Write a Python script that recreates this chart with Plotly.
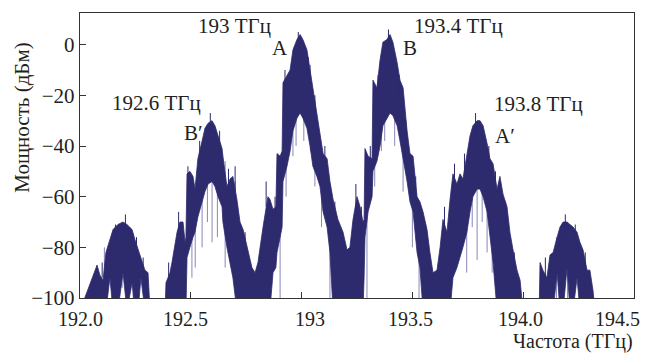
import plotly.graph_objects as go

# Spectrum envelope: frequency (THz), upper and lower edge of the noisy trace (dBm)
freq = [192.000, 192.077, 192.090, 192.104, 192.117, 192.135, 192.149, 192.171, 192.194, 192.212,
        192.235, 192.248, 192.262, 192.275, 192.293, 192.307, 192.316, 192.384,
        192.388, 192.406, 192.415, 192.438, 192.451, 192.465, 192.474, 192.478, 192.483, 192.496,
        192.510, 192.519, 192.532, 192.551, 192.564, 192.578, 192.596, 192.609, 192.623, 192.641,
        192.645, 192.663, 192.677, 192.690, 192.708, 192.722, 192.736, 192.754, 192.776, 192.790,
        192.803, 192.826, 192.848, 192.857, 192.871, 192.884, 192.889, 192.903, 192.912, 192.916,
        192.934, 192.948, 192.961, 192.979, 192.993, 193.006, 193.024, 193.038, 193.051, 193.069,
        193.083, 193.097, 193.115, 193.128, 193.142, 193.164, 193.187, 193.205, 193.218, 193.232,
        193.250, 193.264, 193.277, 193.282, 193.286, 193.300, 193.318, 193.322, 193.340, 193.354,
        193.367, 193.385, 193.399, 193.412, 193.431, 193.444, 193.458, 193.476, 193.489, 193.503,
        193.521, 193.534, 193.548, 193.566, 193.579, 193.593, 193.611, 193.625, 193.638, 193.656,
        193.670, 193.683, 193.701, 193.715, 193.728, 193.746, 193.760, 193.773, 193.792, 193.805,
        193.819, 193.837, 193.850, 193.864, 193.882, 193.895, 193.909, 193.927, 193.940, 193.954,
        193.972, 193.986, 193.999, 194.072, 194.076, 194.089, 194.107, 194.121, 194.135, 194.153,
        194.166, 194.180, 194.198, 194.211, 194.225, 194.243, 194.256, 194.270, 194.288, 194.301,
        194.315, 194.324, 194.500]

power_upper = [-105, -87, -91, -93, -82, -77, -73, -71, -70, -71,
               -73, -77, -81, -84, -89, -90, -105, -105,
               -94, -90, -86, -74, -70, -70, -78, -76, -51, -50,
               -52, -57, -45, -38, -33, -31, -30, -32, -36, -41,
               -44, -56, -53, -52, -61, -70, -73, -80, -88, -90,
               -86, -72, -60, -61, -65, -64, -43, -44, -42, -15,
               -12, -10, -2, 2, 4, 2, -2, -10, -17, -27,
               -34, -43, -45, -54, -61, -69, -74, -81, -80, -69,
               -60, -64, -70, -69, -41, -44, -45, -14, -17, -6,
               1, 2, 4, 1, -7, -14, -17, -34, -43, -44,
               -60, -62, -66, -73, -82, -90, -89, -80, -69, -74,
               -61, -51, -55, -51, -53, -44, -36, -32, -30, -30,
               -32, -39, -45, -47, -57, -52, -59, -64, -74, -81,
               -89, -93, -105, -105, -86, -89, -92, -83, -82, -76,
               -72, -70, -70, -71, -72, -74, -78, -81, -89, -89,
               -97, -105, -105]

power_lower = [-105, -105, -105, -105, -105, -92, -105, -105, -90, -105,
               -94, -105, -105, -92, -105, -105, -105, -105,
               -105, -105, -105, -105, -105, -105, -105, -105, -84, -80,
               -76, -74, -68, -62, -58, -55, -54, -56, -60, -64,
               -70, -80, -86, -92, -105, -105, -105, -105, -105, -105,
               -105, -105, -105, -105, -90, -88, -82, -76, -72, -54,
               -48, -42, -34, -29, -27, -29, -33, -40, -48, -52,
               -56, -66, -72, -82, -105, -105, -105, -105, -105, -105,
               -105, -105, -105, -92, -76, -66, -60, -50, -46, -40,
               -32, -29, -27, -28, -32, -38, -44, -54, -62, -66,
               -82, -88, -105, -105, -105, -105, -105, -105, -105, -105,
               -105, -92, -88, -84, -80, -74, -66, -60, -57, -57,
               -60, -66, -76, -86, -105, -105, -105, -105, -105, -105,
               -105, -105, -105, -105, -105, -105, -105, -105, -105, -90,
               -105, -105, -88, -105, -105, -92, -105, -105, -105, -105,
               -105, -105, -105]

# Thin noise spikes reaching below the dense band: frequency, spike top, spike bottom (dBm)
spike_freq = [192.110, 192.190, 192.240, 192.505, 192.551, 192.596, 192.655, 192.700,
              192.903, 192.930, 192.961, 193.040, 193.060, 193.128, 193.295, 193.330,
              193.360, 193.458, 193.530, 193.745, 193.792, 193.837, 193.882, 194.150, 194.200,
              192.520, 192.575, 192.620, 192.975, 193.010, 193.090, 193.375, 193.420, 193.500,
              193.770, 193.815, 193.860]
spike_top = [-80, -72, -75, -55, -40, -32, -46, -54,
             -46, -20, -5, -8, -22, -55, -45, -20,
             -8, -20, -62, -46, -32, -42, -58, -76, -72,
             -60, -42, -45, -10, -10, -45, -10, -10, -50,
             -40, -40, -52]
spike_bottom = [-100, -96, -100, -92, -80, -78, -88, -90,
                -100, -60, -44, -42, -56, -100, -100, -56,
                -42, -58, -100, -90, -85, -82, -100, -100, -100,
                -88, -70, -76, -40, -38, -72, -38, -40, -80,
                -72, -70, -90]

# Fine hairs sticking up from the top edge: frequency, hair tip (dBm), hair base (dBm)
hair_freq = [192.100, 192.160, 192.205, 192.255, 192.285, 192.400, 192.445, 192.487, 192.540,
             192.588, 192.630, 192.670, 192.700, 192.745, 192.815, 192.840, 192.880, 192.925,
             192.985, 193.030, 193.060, 193.105, 193.150, 193.245, 193.270, 193.310, 193.345,
             193.392, 193.440, 193.470, 193.515, 193.560, 193.645, 193.690, 193.735, 193.785,
             193.845, 193.875, 193.918, 193.960, 194.100, 194.190, 194.235, 194.280]
hair_tip = [-86, -71, -67, -76, -84, -86, -66, -48, -38,
            -27, -34, -49, -48, -74, -80, -54, -60, -10,
            5, -5, -20, -40, -62, -55, -64, -40, -12,
            6, -12, -30, -52, -72, -64, -47, -43, -27,
            -40, -50, -62, -82, -84, -67, -71, -82]
hair_base = [-92, -78, -74, -82, -92, -92, -74, -56, -46,
             -35, -42, -58, -58, -84, -90, -64, -68, -22,
             -4, -12, -30, -50, -70, -65, -74, -50, -24,
             -2, -20, -40, -62, -82, -72, -56, -52, -35,
             -48, -58, -72, -92, -94, -76, -79, -90]

# Peak labels
label_text = ["193 ТГц", "A", "192.6 ТГц", "B′", "193.4 ТГц", "B", "193.8 ТГц", "A′"]
label_freq = [192.697, 192.902, 192.343, 192.510, 193.710, 193.490, 194.070, 193.920]
label_power = [7.5, -1.5, -23.0, -35.0, 7.5, -1.5, -23.5, -36.0]

x_tick_vals = [192.0, 192.5, 193.0, 193.5, 194.0, 194.5]
x_tick_text = ["192.0", "192.5", "193", "193.5", "194.0", "194.5"]
y_tick_vals = [0, -20, -40, -60, -80, -100]

BAND = "rgb(45,42,110)"
FONT = "Times New Roman, Liberation Serif, DejaVu Serif, serif"
TXT = "#231f20"

fig = go.Figure()

sx, sy = [], []
for f, t, b in zip(spike_freq, spike_top, spike_bottom):
    sx += [f, f, None]
    sy += [t, b, None]
fig.add_trace(go.Scatter(x=sx, y=sy, mode="lines",
                         line=dict(color="rgba(60,56,135,0.6)", width=1),
                         hoverinfo="skip", showlegend=False))

fig.add_trace(go.Scatter(x=freq + freq[::-1], y=power_upper + power_lower[::-1],
                         mode="lines", fill="toself", fillcolor=BAND,
                         line=dict(color=BAND, width=0.8),
                         hoverinfo="skip", showlegend=False))

hx, hy = [], []
for f, t, b in zip(hair_freq, hair_tip, hair_base):
    hx += [f, f, None]
    hy += [t, b, None]
fig.add_trace(go.Scatter(x=hx, y=hy, mode="lines",
                         line=dict(color=BAND, width=1),
                         hoverinfo="skip", showlegend=False))

# x tick labels as annotations (they sit slightly off the ticks in the original)
x_label_shift = [0, -5, 8, -2, -3, -17]
for v, t, s in zip(x_tick_vals, x_tick_text, x_label_shift):
    fig.add_annotation(x=v, y=-0.074, xref="x", yref="paper", text=t, showarrow=False,
                       xanchor="center", yanchor="middle", xshift=s, borderpad=0,
                       font=dict(family=FONT, size=20, color=TXT))

for t, f, p in zip(label_text, label_freq, label_power):
    fig.add_annotation(x=f, y=p, text=t, showarrow=False, xanchor="center", yanchor="middle",
                       font=dict(family=FONT, size=21, color=TXT))

fig.add_annotation(x=1.0, y=-0.1965, xref="paper", yref="paper", text="Частота (ТГц)",
                   showarrow=False, xanchor="right", yanchor="bottom", borderpad=0,
                   font=dict(family=FONT, size=20, color=TXT))
fig.add_annotation(x=-0.105, y=0.632, xref="paper", yref="paper", text="Мощность (дБм)",
                   showarrow=False, textangle=-90, xanchor="center", yanchor="middle",
                   font=dict(family=FONT, size=21, color=TXT))

fig.update_layout(
    width=649, height=354,
    margin=dict(l=80, r=15, t=13, b=56),
    paper_bgcolor="white", plot_bgcolor="white",
    font=dict(family=FONT, size=21, color=TXT),
    xaxis=dict(range=[192.0, 194.5], tickvals=x_tick_vals, showticklabels=False,
               ticks="inside", ticklen=6, tickwidth=1.3, tickcolor="#333",
               showline=True, linecolor="#333", linewidth=1.4, mirror=True,
               showgrid=False, zeroline=False),
    yaxis=dict(range=[-100, 12.5], tickvals=y_tick_vals,
               ticks="inside", ticklen=6, tickwidth=1.3, tickcolor="#333",
               showline=True, linecolor="#333", linewidth=1.4, mirror=True,
               showgrid=False, zeroline=False,
               tickfont=dict(family=FONT, size=21, color=TXT)),
)

fig.write_html("out.html", config={"displayModeBar": False},
               post_script="document.body.style.margin='0';")
